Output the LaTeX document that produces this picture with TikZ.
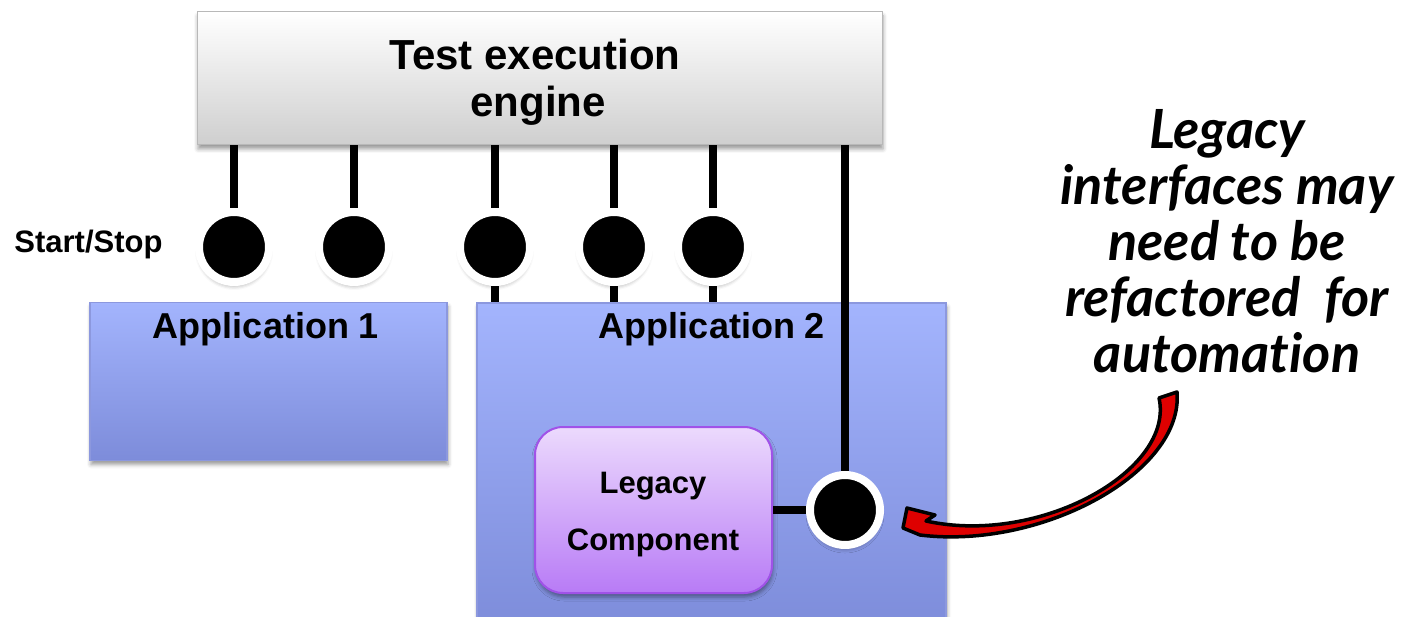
\documentclass[tikz,border=0pt]{standalone}
\usepackage{fontspec}
\setmainfont{Liberation Sans}
\newfontfamily\notefont{Lato}[Ligatures={NoCommon}]
\usetikzlibrary{shadows.blur}
\definecolor{appTop}{RGB}{163,180,253}
\definecolor{appBot}{RGB}{125,140,218}
\definecolor{appEdge}{RGB}{140,152,222}
\definecolor{legTop}{RGB}{236,218,253}
\definecolor{legBot}{RGB}{184,123,246}
\definecolor{legEdge}{RGB}{160,82,232}
\definecolor{arrRed}{RGB}{222,0,0}
\begin{document}
\begin{tikzpicture}[x=1pt,y=-1pt,
  softshadow/.style={blur shadow={shadow xshift=1pt,shadow yshift=-4pt,shadow blur radius=4pt,shadow opacity=40}},
  engbox/.style={rectangle,inner sep=0pt,top color=white,bottom color=black!19,draw=black!28,line width=1pt,softshadow},
  appbox/.style={rectangle,inner sep=0pt,top color=appTop,bottom color=appBot,draw=appEdge,line width=1.5pt,softshadow},
  legbox/.style={rectangle,rounded corners=28pt,inner sep=0pt,top color=legTop,bottom color=legBot,draw=legEdge,line width=2pt,softshadow},
  port/.style={circle,minimum size=70pt,inner sep=0pt,fill=black,draw=white,line width=8pt,
    blur shadow={shadow xshift=0pt,shadow yshift=-4pt,shadow blur radius=4pt,shadow opacity=35}},
  conn/.style={line width=8pt,black},
  bigtxt/.style={font=\bfseries\fontsize{42}{50}\selectfont,inner sep=0pt,anchor=base},
  apptxt/.style={font=\bfseries\fontsize{36}{42}\selectfont,inner sep=0pt,anchor=base},
  smalltxt/.style={font=\bfseries\fontsize{31}{36}\selectfont,inner sep=0pt,anchor=base},
  notetxt/.style={font=\notefont\bfseries\itshape\fontsize{54}{56}\selectfont,inner sep=0pt,align=center},
  callout/.style={fill=arrRed,draw=black,line width=3.5pt,line join=round}
]
\useasboundingbox (0,0) rectangle (1423,617);

% boxes
\node[engbox,minimum width=685pt,minimum height=133pt] (engine) at (539.5,78.5) {};
\node[appbox,minimum width=357pt,minimum height=158pt] (app1) at (268.5,381.5) {};
\node[appbox,minimum width=469pt,minimum height=327pt] (app2) at (711.5,466.5) {};
\node[legbox,minimum width=237pt,minimum height=166pt] (legacy) at (653.5,510) {};

% port positions
\coordinate (p1) at (234,247);
\coordinate (p2) at (354,247);
\coordinate (p3) at (495,247);
\coordinate (p4) at (614,247);
\coordinate (p5) at (713,247);
\coordinate (p6) at (845,510);

% connectors
\foreach \c in {p1,p2,p3,p4,p5,p6}
  \draw[conn] (engine.south -| \c) -- (\c);
\foreach \c in {p3,p4,p5}
  \draw[conn] (\c) -- (\c |- app2.north);
\draw[conn] (legacy.east) -- (p6);

% ports
\node[port] (c1) at (p1) {};
\node[port] (c2) at (p2) {};
\node[port] (c3) at (p3) {};
\node[port] (c4) at (p4) {};
\node[port] (c5) at (p5) {};
\node[port] (c6) at (p6) {};

% texts
\node[bigtxt] (t1) at (535,70) {Test execution};
\node[bigtxt] (t2) at (538,117) {engine};
\node[apptxt] (a1) at (266,338) {Application 1};
\node[apptxt] (a2) at (712,338) {Application 2};
\node[smalltxt] (ss) at (88.5,253) {Start/Stop};
\node[smalltxt] (l1) at (653,493) {Legacy};
\node[smalltxt] (l2) at (653,550) {Component};

% note
\node[notetxt] (note) at (1227,241) {Legacy\\interfaces may\\need to be\\refactored\ \ for\\automation};

% curved callout arrow
\draw[callout] (903,528) -- (907,508) -- (935,515) -- (926,521)
  .. controls (1040,546) and (1175,470) .. (1159,398)
  -- (1177,392)
  .. controls (1184,472) and (1042,550) .. (920,535) -- cycle;
\end{tikzpicture}
\end{document}
